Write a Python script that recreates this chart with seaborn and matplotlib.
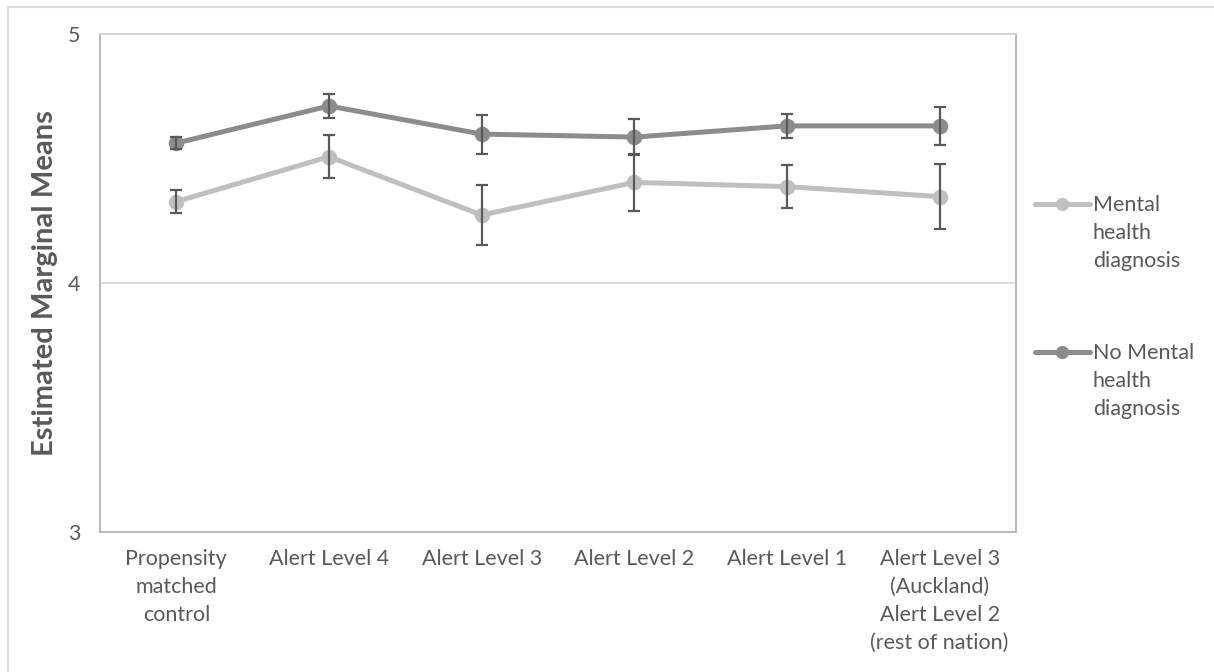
import matplotlib
matplotlib.use("Agg")
import matplotlib.pyplot as plt
import seaborn as sns
import pandas as pd
import numpy as np
from matplotlib.lines import Line2D

categories = ["Propensity\nmatched\ncontrol", "Alert Level 4", "Alert Level 3", "Alert Level 2",
              "Alert Level 1", "Alert Level 3\n(Auckland)\nAlert Level 2\n(rest of nation)"]
series_names = ["Mental\nhealth\ndiagnosis", "No Mental\nhealth\ndiagnosis"]
mental_mean = [4.327, 4.507, 4.273, 4.404, 4.387, 4.347]
mental_err = [0.047, 0.087, 0.122, 0.114, 0.086, 0.130]
nomental_mean = [4.562, 4.711, 4.598, 4.586, 4.631, 4.631]
nomental_err = [0.024, 0.050, 0.078, 0.071, 0.047, 0.075]
y_ticks = [3, 4, 5]

sns.set_theme(style="white")
FONT = ["Lato", "DejaVu Sans"]
plt.rcParams["font.family"] = FONT

TXT = "#595959"
LIGHT = "#BFBFBF"
DARK = "#8C8C8C"
ERR = "#595959"
SPINE = "#B3B3B3"
FS = 15.5
LS = 1.5

df = pd.DataFrame({
    "cat": categories * 2,
    "val": mental_mean + nomental_mean,
    "grp": [series_names[0]] * 6 + [series_names[1]] * 6,
})

fig = plt.figure(figsize=(12.14, 6.72), dpi=100)
ax = fig.add_axes([100 / 1214, 1 - 532 / 672, 916 / 1214, 498 / 672])

sns.pointplot(data=df, x="cat", y="val", hue="grp", order=categories, hue_order=series_names,
              palette=[LIGHT, DARK], markers="o", linestyles="-", errorbar=None, ax=ax,
              markersize=8.5, linewidth=3.6, legend=False)

pos = np.arange(len(categories))
for m, e in [(mental_mean, mental_err), (nomental_mean, nomental_err)]:
    ax.errorbar(pos, m, yerr=e, fmt="none", ecolor=ERR, elinewidth=1.6, capsize=4.3,
                capthick=1.6, zorder=10)

ax.set_xlim(-0.5, len(categories) - 0.5)
ax.set_ylim(3, 5)
ax.set_yticks(y_ticks)
ax.set_yticklabels([str(t) for t in y_ticks], fontsize=FS, color=TXT)
ax.tick_params(axis="y", length=0, pad=14)
ax.tick_params(axis="x", length=0, pad=12)
ax.set_xticks(pos)
ax.set_xticklabels(categories, fontsize=FS, color=TXT, linespacing=LS)
ax.axhline(4, color="#D9D9D9", linewidth=1.2, zorder=0)
ax.set_xlabel("")
ax.set_ylabel("Estimated Marginal Means", fontsize=21, fontweight="bold", color=TXT, labelpad=7)
for s in ax.spines.values():
    s.set_visible(True)
    s.set_color(SPINE)
    s.set_linewidth(1.3)
ax.spines["top"].set_color("#D0D0D0")

# legend (decoration)
leg_y = [1 - 204 / 672, 1 - 352 / 672]
for name, col, yy in zip(series_names, [LIGHT, DARK], leg_y):
    fig.add_artist(Line2D([1035 / 1214, 1090 / 1214], [yy, yy], color=col, linewidth=3.6,
                          transform=fig.transFigure))
    fig.add_artist(Line2D([1062 / 1214], [yy], color=col, marker="o", markersize=8.5,
                          transform=fig.transFigure))
    fig.text(1093 / 1214, yy + 9 / 672, name, ha="left", va="top", fontsize=FS, color=TXT,
             linespacing=LS)

# outer chart border (top and left)
fig.add_artist(Line2D([8 / 1214, 1], [1 - 7 / 672, 1 - 7 / 672], color="#D9D9D9", linewidth=1.5,
                      transform=fig.transFigure))
fig.add_artist(Line2D([8 / 1214, 8 / 1214], [0, 1 - 7 / 672], color="#D9D9D9", linewidth=1.5,
                      transform=fig.transFigure))

fig.savefig("out.png", dpi=100, facecolor="white")
